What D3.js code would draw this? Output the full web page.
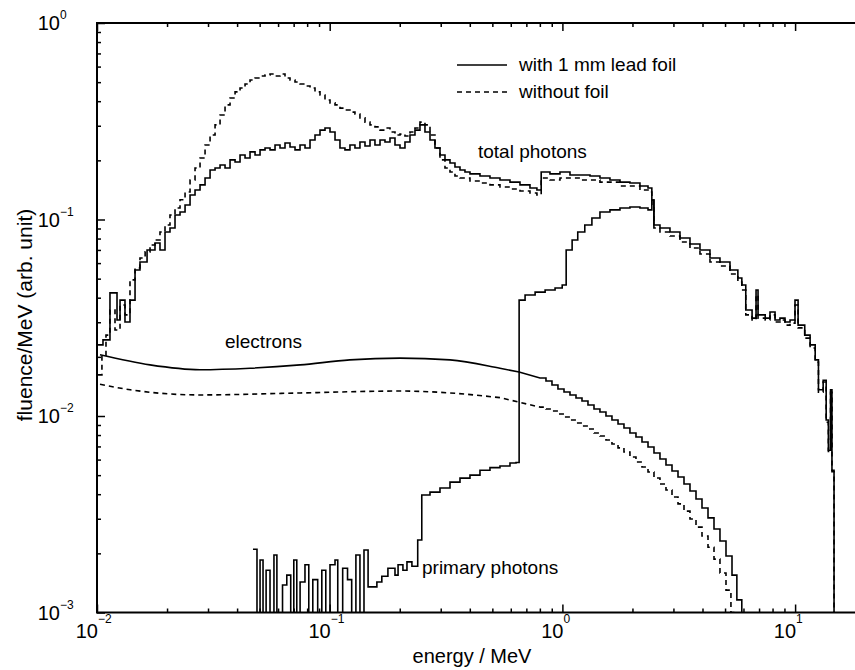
<!DOCTYPE html>
<html>
<head>
<meta charset="utf-8">
<script src="https://cdn.jsdelivr.net/npm/d3@7"></script>
<style>
  body { margin: 0; background: #fff; }
  svg { display: block; }
  text { font-family: "Liberation Sans", Arial, Helvetica, sans-serif; fill: #000; }
</style>
</head>
<body>
<svg id="chart" width="855" height="670"></svg>
<script>
// ---- spectra (energy in MeV = left bin edge, fluence/MeV in arbitrary units) ----

// total photons, with 1 mm lead foil
const totalFoilE = [0.0101,0.01061,0.01137,0.01219,0.01256,0.01319,0.01386,0.01457,0.0153,0.01641,0.01775,0.01865,0.0196,0.02059,0.02164,0.02274,0.0239,0.02511,0.02638,0.02772,0.02913,0.03061,0.03216,0.03379,0.0355,0.0373,0.0392,0.04118,0.04327,0.04546,0.04777,0.05019,0.05273,0.05541,0.05822,0.06116,0.06426,0.06752,0.07095,0.07455,0.07833,0.0823,0.08647,0.09085,0.09546,0.1003,0.1054,0.1107,0.1163,0.1222,0.1284,0.1349,0.1418,0.149,0.1565,0.1645,0.1728,0.1816,0.1908,0.2005,0.2106,0.2213,0.2325,0.2443,0.2567,0.2698,0.2834,0.2978,0.3129,0.3288,0.3454,0.363,0.3813,0.4007,0.4424,0.4884,0.5392,0.5953,0.6572,0.7255,0.7771,0.8106,0.8843,0.9763,1.078,1.19,1.314,1.45,1.601,1.768,1.951,2.154,2.333,2.423,2.473,2.626,2.899,3.201,3.534,3.901,4.307,4.755,5.25,5.676,5.903,6.138,6.533,6.795,6.93,7.44,7.8,8.2,8.61,9.05,9.51,9.99,10.3,11.0,11.6,12.2,12.6,13.2,13.6,13.9,14.2,14.4,14.7];
const totalFoilV = [0.023,0.0244,0.0423,0.0308,0.0389,0.0301,0.0389,0.0553,0.0608,0.07,0.0759,0.07,0.0863,0.0905,0.1054,0.1092,0.1186,0.1333,0.1413,0.15,0.1627,0.1786,0.1828,0.1894,0.1828,0.201,0.196,0.213,0.2056,0.221,0.213,0.226,0.231,0.226,0.2395,0.231,0.245,0.234,0.226,0.2395,0.231,0.254,0.269,0.285,0.292,0.279,0.254,0.231,0.226,0.2395,0.231,0.248,0.2366,0.254,0.2395,0.254,0.248,0.26,0.2395,0.231,0.248,0.269,0.285,0.303,0.279,0.254,0.231,0.213,0.201,0.194,0.185,0.1786,0.1745,0.1706,0.1665,0.1627,0.159,0.155,0.15,0.1446,0.1413,0.1745,0.1706,0.1745,0.1684,0.1684,0.1665,0.1627,0.159,0.155,0.1534,0.148,0.1446,0.1257,0.0937,0.0905,0.0863,0.0805,0.075,0.07,0.0637,0.0608,0.0553,0.0504,0.0464,0.0346,0.0315,0.0438,0.0327,0.0315,0.0338,0.0308,0.0315,0.0301,0.0308,0.0389,0.029,0.0258,0.023,0.0193,0.0136,0.0152,0.00954,0.0067,0.0136,0.0053,0.0004];

// total photons, without foil
const totalBareE = [0.0101,0.0105,0.01093,0.01137,0.01195,0.01256,0.01319,0.01386,0.01457,0.0153,0.0161,0.0169,0.01775,0.01865,0.0196,0.02059,0.02164,0.02274,0.0239,0.02511,0.02638,0.02772,0.02913,0.03061,0.03216,0.03379,0.0355,0.0373,0.0392,0.04118,0.04327,0.04546,0.04777,0.05019,0.05273,0.05541,0.05822,0.06116,0.06426,0.06752,0.07095,0.07455,0.07833,0.0823,0.08647,0.09085,0.09546,0.1003,0.1054,0.1107,0.1163,0.1222,0.1284,0.1349,0.1418,0.149,0.1565,0.1645,0.1728,0.1816,0.1908,0.2005,0.2106,0.2213,0.2325,0.2443,0.2567,0.2698,0.2834,0.2978,0.3129,0.3288,0.3454,0.363,0.4007,0.4424,0.4884,0.5392,0.5953,0.6572,0.7255,0.7771,0.8106,0.8843,0.9763,1.19,1.45,1.768,2.154,2.333,2.423,2.473,2.626,2.899,3.201,3.534,3.901,4.307,4.755,5.25,5.676,5.903,6.138,6.533,6.795,6.93,7.44,7.8,8.2,8.61,9.05,9.51,9.99,10.3,11.0,11.6,12.2,12.6,13.2,13.6,13.9,14.2,14.4,14.7];
const totalBareV = [0.0162,0.0204,0.0258,0.0346,0.0274,0.0367,0.0327,0.0493,0.0566,0.0637,0.0684,0.0742,0.0787,0.0863,0.0937,0.1054,0.1145,0.126,0.138,0.159,0.1828,0.2056,0.2395,0.269,0.303,0.34,0.383,0.415,0.446,0.467,0.489,0.513,0.525,0.537,0.544,0.55,0.537,0.55,0.525,0.513,0.501,0.489,0.478,0.467,0.446,0.43,0.406,0.392,0.383,0.369,0.361,0.352,0.344,0.329,0.313,0.303,0.296,0.285,0.292,0.279,0.269,0.272,0.266,0.279,0.292,0.313,0.303,0.269,0.231,0.201,0.1828,0.1745,0.1665,0.1627,0.157,0.1534,0.15,0.1463,0.143,0.1396,0.1364,0.1333,0.1627,0.159,0.1627,0.159,0.155,0.148,0.1413,0.138,0.1186,0.0905,0.0863,0.0824,0.0768,0.0716,0.0668,0.0608,0.058,0.0528,0.0481,0.0438,0.0327,0.0308,0.0413,0.0315,0.0308,0.0327,0.0301,0.0308,0.029,0.0297,0.0367,0.0281,0.0249,0.0222,0.0188,0.0132,0.0149,0.0093,0.0066,0.0132,0.0052,0.0004];

// primary photons (with foil); 0.0004 marks empty bins below the axis
const primaryE = [0.0468,0.0487,0.0502,0.0517,0.0533,0.0554,0.0576,0.0593,0.0627,0.0654,0.068,0.0701,0.0722,0.0746,0.0783,0.0813,0.0846,0.0888,0.0925,0.0962,0.1003,0.1054,0.1083,0.1137,0.1193,0.1243,0.1296,0.1349,0.1404,0.1462,0.1595,0.1675,0.1779,0.1908,0.1967,0.2064,0.2148,0.2256,0.2389,0.2487,0.2698,0.2978,0.3288,0.363,0.4007,0.4424,0.4884,0.5392,0.5953,0.632,0.6517,0.6912,0.7634,0.8428,0.93,0.998,1.038,1.101,1.164,1.248,1.339,1.45,1.601,1.768,1.951,2.154,2.333,2.423,2.473];
const primaryV = [0.0021,0.0004,0.00185,0.0004,0.00164,0.0004,0.00196,0.0004,0.00138,0.00155,0.0004,0.00185,0.0004,0.00143,0.00175,0.0004,0.00147,0.0004,0.00164,0.0004,0.00175,0.00185,0.0004,0.00168,0.00147,0.0004,0.00196,0.0004,0.00208,0.00135,0.00143,0.00153,0.00168,0.00155,0.00175,0.00164,0.00181,0.00172,0.00234,0.00396,0.0041,0.0043,0.00461,0.00483,0.005,0.0053,0.00546,0.00557,0.00577,0.0058,0.0389,0.0413,0.0427,0.0438,0.0448,0.0464,0.07,0.0787,0.0863,0.0937,0.1018,0.1092,0.112,0.1145,0.1158,0.1145,0.112,0.1257,0.0937];

// electrons with foil: coarse points at low energy, fine histogram bins above 0.8 MeV
const elecFoilE = [0.0103,0.0169,0.0277,0.0455,0.0746,0.122,0.2005,0.329,0.539,0.657,
  0.801,0.85,0.902,0.957,1.016,1.078,1.144,1.214,1.288,1.367,1.45,1.539,1.633,1.734,1.839,1.951,2.071,2.198,2.333,2.475,2.626,2.787,2.958,3.139,3.331,3.534,3.751,3.98,4.224,4.482,4.755,5.047,5.356,5.62];
const elecFoilV = [0.0205,0.0182,0.0172,0.0175,0.0182,0.0193,0.0197,0.0193,0.0175,0.0167,
  0.0156,0.01507,0.01438,0.01372,0.01325,0.01279,0.01235,0.01192,0.01138,0.01085,0.01048,0.0100,0.00954,0.0091,0.00869,0.00819,0.00782,0.00737,0.00696,0.00648,0.00604,0.00563,0.00525,0.00489,0.00451,0.00415,0.00378,0.0034,0.00303,0.00266,0.00231,0.00194,0.00155,0.00116];

// electrons without foil
const elecBareE = [0.0103,0.0139,0.0277,0.0746,0.2005,0.329,0.539,
  0.801,0.85,0.902,0.957,1.016,1.078,1.144,1.214,1.288,1.367,1.45,1.539,1.633,1.734,1.839,1.951,2.071,2.198,2.333,2.475,2.626,2.787,2.958,3.139,3.331,3.534,3.751,3.98,4.224,4.482,4.755,5.047,5.3];
const elecBareV = [0.0145,0.0136,0.0128,0.0131,0.0134,0.0131,0.0124,
  0.0111,0.01085,0.0106,0.01024,0.00988,0.00954,0.00921,0.00889,0.00859,0.00819,0.00791,0.00755,0.0072,0.00688,0.00656,0.00618,0.00583,0.0055,0.00519,0.00484,0.00451,0.0042,0.00387,0.00357,0.00328,0.00299,0.00272,0.00245,0.00215,0.00187,0.00159,0.0013,0.001];

// axis ticks
const majorTicksX = [0.01, 0.1, 1, 10];
const majorTicksY = [0.001, 0.01, 0.1, 1];
const xTickExp = ["−2", "−1", "0", "1"];
const yTickExp = ["−3", "−2", "−1", "0"];

// ---- layout ----
const svg = d3.select("#chart");
const plotLeft = 97, plotTop = 23, plotBottom = 612.5, decadeX = 232.7;
const x = d3.scaleLog().domain([0.01, 20]).range([plotLeft, plotLeft + decadeX * Math.log10(2000)]);
const y = d3.scaleLog().domain([0.001, 1]).range([plotBottom, plotTop]);
const plotRight = x.range()[1];
const stepFrom = 0.8;   // electron spectra are drawn as histograms above this energy

const minorX = [];
[0.01, 0.1, 1, 10].forEach(d => { for (let k = 2; k <= 9; k++) minorX.push(d * k); });
const minorY = [];
[0.001, 0.01, 0.1].forEach(d => { for (let k = 2; k <= 9; k++) minorY.push(d * k); });

svg.append("defs").append("clipPath").attr("id", "plot")
  .append("rect").attr("x", plotLeft).attr("y", plotTop)
  .attr("width", plotRight - plotLeft).attr("height", plotBottom - plotTop);

// ---- curves ----
function pairs(E, V) { return E.map((e, i) => [e, V[i]]); }
const stepLine = d3.line().x(d => x(d[0])).y(d => y(Math.max(d[1], 0.0004))).curve(d3.curveStepAfter);
const smoothLine = d3.line().x(d => x(d[0])).y(d => y(d[1])).curve(d3.curveMonotoneX);

const g = svg.append("g").attr("clip-path", "url(#plot)")
  .attr("fill", "none").attr("stroke", "#000").attr("stroke-width", 1.6);

function electronPath(E, V, dash) {
  const pts = pairs(E, V);
  const low = pts.filter(d => d[0] <= stepFrom);
  const high = pts.filter(d => d[0] >= stepFrom);
  high.push([high[high.length - 1][0] * 1.05, 0.0004]);
  const p = g.append("path").attr("d", smoothLine(low) + stepLine(high).replace(/^M/, "L"));
  if (dash) p.attr("stroke-dasharray", dash);
}

g.append("path").attr("d", stepLine(pairs(totalBareE, totalBareV))).attr("stroke-dasharray", "5,4");
g.append("path").attr("d", stepLine(pairs(totalFoilE, totalFoilV)));
g.append("path").attr("d", stepLine(pairs(primaryE, primaryV)));
electronPath(elecBareE, elecBareV, "5,4");
electronPath(elecFoilE, elecFoilV, null);

// ---- axes (ticks pointing inward on all sides) ----
function addAxis(axisFn, scale, vals, size, transform) {
  svg.append("g").attr("transform", transform)
    .call(axisFn(scale).tickValues(vals).tickSizeInner(-size).tickSizeOuter(0).tickFormat(""))
    .call(s => s.select(".domain").remove())
    .selectAll("line").attr("stroke", "#000").attr("stroke-width", 1.5);
}
addAxis(d3.axisBottom, x, majorTicksX, 8, `translate(0,${plotBottom})`);
addAxis(d3.axisBottom, x, minorX, 4, `translate(0,${plotBottom})`);
addAxis(d3.axisTop, x, majorTicksX, 8, `translate(0,${plotTop})`);
addAxis(d3.axisTop, x, minorX, 4, `translate(0,${plotTop})`);
addAxis(d3.axisLeft, y, majorTicksY, 8, `translate(${plotLeft},0)`);
addAxis(d3.axisLeft, y, minorY, 4, `translate(${plotLeft},0)`);
addAxis(d3.axisRight, y, majorTicksY, 8, `translate(${plotRight},0)`);
addAxis(d3.axisRight, y, minorY, 4, `translate(${plotRight},0)`);

svg.append("rect").attr("x", plotLeft).attr("y", plotTop)
  .attr("width", plotRight - plotLeft).attr("height", plotBottom - plotTop)
  .attr("fill", "none").attr("stroke", "#000").attr("stroke-width", 2);

// tick labels: 10 with superscript exponent
majorTicksX.forEach((v, i) => {
  svg.append("text").attr("x", x(v) + 1).attr("y", 638).attr("text-anchor", "end")
    .attr("font-size", 20).text("10");
  svg.append("text").attr("x", x(v) + 1).attr("y", 623).attr("font-size", 12).text(xTickExp[i]);
});
majorTicksY.forEach((v, i) => {
  svg.append("text").attr("x", 60).attr("y", y(v) + 7).attr("text-anchor", "end")
    .attr("font-size", 20).text("10");
  svg.append("text").attr("x", 60).attr("y", y(v) - 4).attr("font-size", 12).text(yTickExp[i]);
});

// axis titles
svg.append("text").attr("x", 472).attr("y", 663).attr("text-anchor", "middle")
  .attr("font-size", 20).text("energy / MeV");
svg.append("text").attr("transform", "translate(32,315) rotate(-90)").attr("text-anchor", "middle")
  .attr("font-size", 21).text("fluence/MeV (arb. unit)");

// legend
const legend = svg.append("g");
legend.append("line").attr("x1", 457).attr("x2", 507).attr("y1", 65).attr("y2", 65)
  .attr("stroke", "#000").attr("stroke-width", 1.6);
legend.append("text").attr("x", 519).attr("y", 71).attr("font-size", 19).text("with 1 mm lead foil");
legend.append("line").attr("x1", 457).attr("x2", 507).attr("y1", 92).attr("y2", 92)
  .attr("stroke", "#000").attr("stroke-width", 1.6).attr("stroke-dasharray", "5,4");
legend.append("text").attr("x", 519).attr("y", 98).attr("font-size", 19).text("without foil");

// curve annotations
svg.append("text").attr("x", 478).attr("y", 158).attr("font-size", 19).text("total photons");
svg.append("text").attr("x", 225).attr("y", 348).attr("font-size", 19).text("electrons");
svg.append("text").attr("x", 422).attr("y", 574).attr("font-size", 19).text("primary photons");
</script>
</body>
</html>
